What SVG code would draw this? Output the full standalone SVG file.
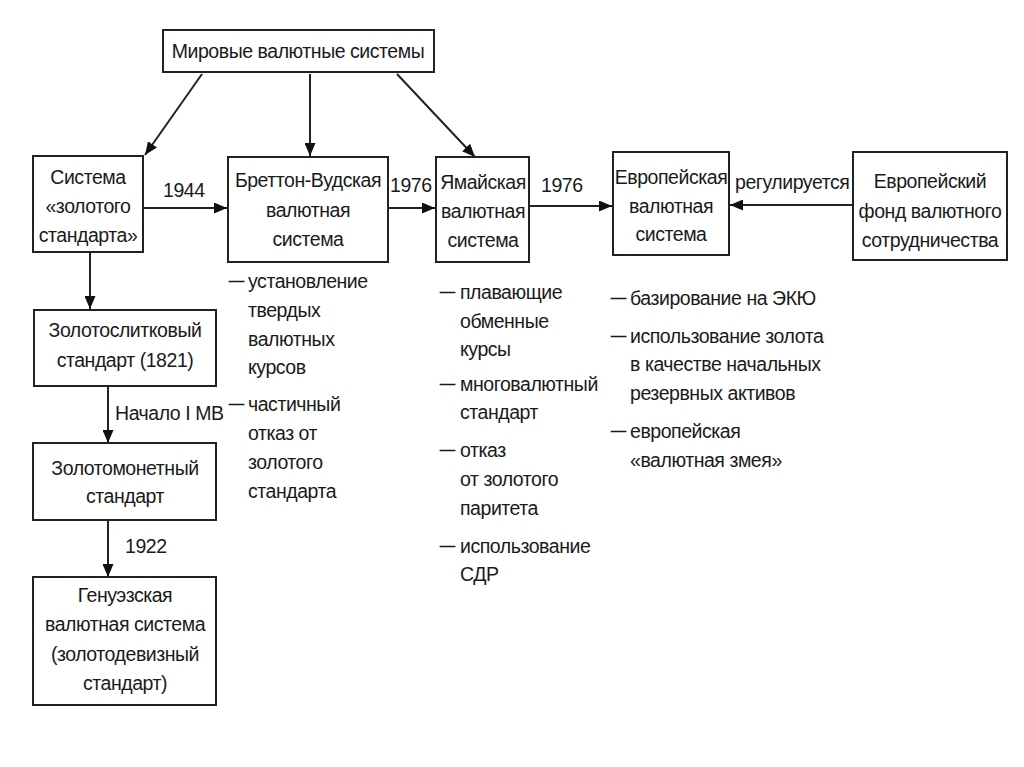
<svg xmlns="http://www.w3.org/2000/svg" width="1024" height="767" viewBox="0 0 1024 767">
<style>
.box{fill:#fff;stroke:#222;stroke-width:2}
.t{font-family:"Liberation Sans",Arial,sans-serif;font-size:19.5px;letter-spacing:-0.45px;fill:#1a1a1a}
.d{font-family:"Liberation Sans",Arial,sans-serif;font-size:15px;fill:#1a1a1a;stroke:#1a1a1a;stroke-width:0.7}
.c{text-anchor:middle}
.ln{stroke:#222;stroke-width:2;fill:none}
</style>
<defs>
<marker id="ah" viewBox="0 0 13 11" refX="13" refY="5.5" markerWidth="13" markerHeight="11" markerUnits="userSpaceOnUse" orient="auto">
<path d="M0,0 L13,5.5 L0,11 Z" fill="#111"/>
</marker>
</defs>
<rect width="1024" height="767" fill="#fff"/>
<g id="connectors">
<line class="ln" x1="202" y1="74" x2="145" y2="155" marker-end="url(#ah)"/>
<line class="ln" x1="310" y1="74" x2="310" y2="156" marker-end="url(#ah)"/>
<line class="ln" x1="397" y1="74" x2="475" y2="157" marker-end="url(#ah)"/>
<line class="ln" x1="143" y1="208" x2="227" y2="208" marker-end="url(#ah)"/>
<text class="t" x="163" y="197">1944</text>
<line class="ln" x1="388" y1="208" x2="435" y2="208" marker-end="url(#ah)"/>
<text class="t" x="390" y="192">1976</text>
<line class="ln" x1="529" y1="206" x2="612" y2="206" marker-end="url(#ah)"/>
<text class="t" x="541" y="192">1976</text>
<line class="ln" x1="853" y1="205" x2="730" y2="205" marker-end="url(#ah)"/>
<text class="t" x="735" y="189">регулируется</text>
<line class="ln" x1="90" y1="252" x2="90" y2="309" marker-end="url(#ah)"/>
<line class="ln" x1="108" y1="386" x2="108" y2="443" marker-end="url(#ah)"/>
<text class="t" x="115" y="420">Начало I МВ</text>
<line class="ln" x1="108" y1="520" x2="108" y2="577" marker-end="url(#ah)"/>
<text class="t" x="125" y="553">1922</text>
</g>
<g id="n-top">
<rect class="box" x="163" y="30" width="271" height="42"/>
<text class="t c" x="298" y="58">Мировые валютные системы</text>
</g>
<g id="n-gold">
<rect class="box" x="33" y="156" width="110" height="96"/>
<text class="t c" x="88" y="184">Система</text>
<text class="t c" x="88" y="213">«золотого</text>
<text class="t c" x="88" y="242">стандарта»</text>
</g>
<g id="n-bretton">
<rect class="box" x="228" y="157" width="160" height="105"/>
<text class="t c" x="308" y="187">Бреттон-Вудская</text>
<text class="t c" x="308" y="217">валютная</text>
<text class="t c" x="308" y="246">система</text>
</g>
<g id="n-jamaica">
<rect class="box" x="436" y="157" width="93" height="105"/>
<text class="t c" x="483" y="189">Ямайская</text>
<text class="t c" x="483" y="218">валютная</text>
<text class="t c" x="483" y="247">система</text>
</g>
<g id="n-euro">
<rect class="box" x="613" y="152" width="116" height="103"/>
<text class="t c" x="671" y="184">Европейская</text>
<text class="t c" x="671" y="213">валютная</text>
<text class="t c" x="671" y="241">система</text>
</g>
<g id="n-fund">
<rect class="box" x="853" y="152" width="154" height="108"/>
<text class="t c" x="930" y="188">Европейский</text>
<text class="t c" x="930" y="218">фонд валютного</text>
<text class="t c" x="930" y="247">сотрудничества</text>
</g>
<g id="n-bullion">
<rect class="box" x="34" y="310" width="182" height="76"/>
<text class="t c" x="125" y="337">Золотослитковый</text>
<text class="t c" x="125" y="367">стандарт (1821)</text>
</g>
<g id="n-coin">
<rect class="box" x="33" y="443" width="183" height="77"/>
<text class="t c" x="125" y="475">Золотомонетный</text>
<text class="t c" x="125" y="503">стандарт</text>
</g>
<g id="n-genoa">
<rect class="box" x="33" y="577" width="183" height="128"/>
<text class="t c" x="125" y="602">Генуэзская</text>
<text class="t c" x="125" y="631">валютная система</text>
<text class="t c" x="125" y="661">(золотодевизный</text>
<text class="t c" x="125" y="690">стандарт)</text>
</g>
<g id="list-bretton">
<text class="d" x="229" y="285">—</text>
<text class="t" x="248" y="288">установление</text>
<text class="t" x="248" y="317">твердых</text>
<text class="t" x="248" y="346">валютных</text>
<text class="t" x="248" y="374">курсов</text>
<text class="d" x="229" y="408">—</text>
<text class="t" x="248" y="411">частичный</text>
<text class="t" x="248" y="440">отказ от</text>
<text class="t" x="248" y="469">золотого</text>
<text class="t" x="248" y="498">стандарта</text>
</g>
<g id="list-jamaica">
<text class="d" x="440" y="296">—</text>
<text class="t" x="460" y="299">плавающие</text>
<text class="t" x="460" y="328">обменные</text>
<text class="t" x="460" y="356">курсы</text>
<text class="d" x="440" y="388">—</text>
<text class="t" x="460" y="391">многовалютный</text>
<text class="t" x="460" y="419">стандарт</text>
<text class="d" x="440" y="454">—</text>
<text class="t" x="460" y="457">отказ</text>
<text class="t" x="460" y="486">от золотого</text>
<text class="t" x="460" y="515">паритета</text>
<text class="d" x="440" y="550">—</text>
<text class="t" x="460" y="553">использование</text>
<text class="t" x="460" y="581">СДР</text>
</g>
<g id="list-euro">
<text class="d" x="611" y="302">—</text>
<text class="t" x="630" y="305">базирование на ЭКЮ</text>
<text class="d" x="611" y="340">—</text>
<text class="t" x="630" y="343">использование золота</text>
<text class="t" x="630" y="371">в качестве начальных</text>
<text class="t" x="630" y="400">резервных активов</text>
<text class="d" x="611" y="435">—</text>
<text class="t" x="630" y="438">европейская</text>
<text class="t" x="630" y="467">«валютная змея»</text>
</g>
</svg>
